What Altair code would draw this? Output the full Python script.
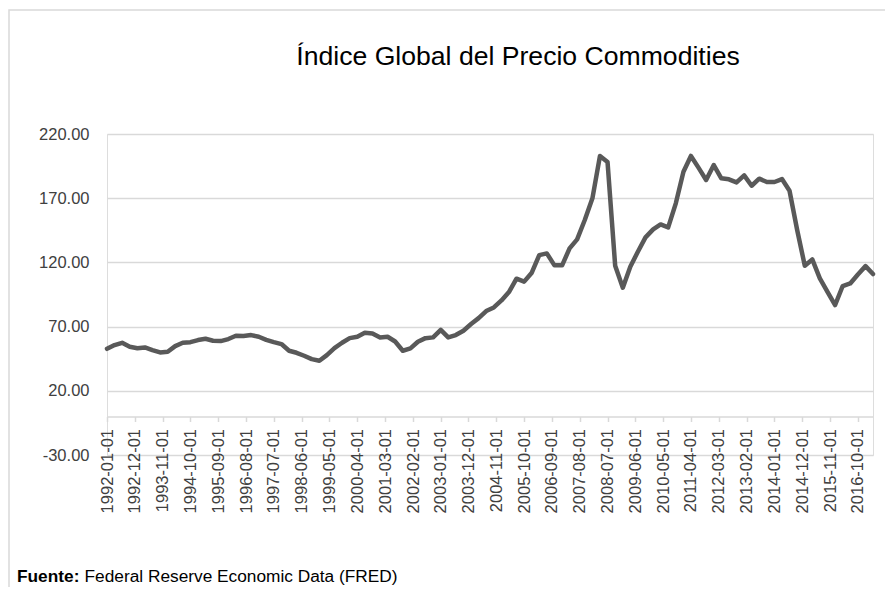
import altair as alt
import pandas as pd

# ---- data ----
title_text = "Índice Global del Precio Commodities"
source_bold = "Fuente:"
source_rest = "Federal Reserve Economic Data (FRED)"

dates = pd.date_range("1992-01-01", periods=102, freq="QS").strftime("%Y-%m-%d").tolist()
values = [
    52.7, 55.6, 57.4, 54.3,
    53.2, 53.8, 51.7, 49.9,
    50.4, 54.8, 57.4, 57.9,
    59.5, 60.5, 59.0, 58.7,
    60.3, 62.9, 62.6, 63.4,
    62.1, 59.7, 57.9, 56.4,
    51.2, 49.6, 47.3, 44.7,
    43.4, 47.8, 53.2, 57.4,
    61.0, 62.1, 65.2, 64.7,
    61.6, 62.1, 58.4, 51.2,
    53.0, 58.2, 61.0, 61.6,
    67.5, 61.6, 63.4, 66.8,
    72.0, 76.6, 82.1, 84.9,
    90.4, 96.9, 107.3, 105.0,
    112.0, 125.7, 127.0, 117.7,
    117.7, 130.9, 137.9, 153.0,
    169.9, 202.9, 198.2, 117.4,
    100.3, 116.6, 128.3, 139.5,
    145.7, 149.6, 147.3, 166.0,
    190.6, 202.9, 193.8, 184.2,
    195.8, 185.5, 184.7, 182.3,
    187.8, 179.7, 185.2, 182.6,
    182.6, 184.9, 175.8, 145.2,
    117.4, 122.3, 107.5, 97.1,
    86.8, 101.6, 103.6, 110.6,
    117.1, 110.9,
]
x_tick_labels = [
    "1992-01-01", "1992-12-01", "1993-11-01", "1994-10-01", "1995-09-01",
    "1996-08-01", "1997-07-01", "1998-06-01", "1999-05-01", "2000-04-01",
    "2001-03-01", "2002-02-01", "2003-01-01", "2003-12-01", "2004-11-01",
    "2005-10-01", "2006-09-01", "2007-08-01", "2008-07-01", "2009-06-01",
    "2010-05-01", "2011-04-01", "2012-03-01", "2013-02-01", "2014-01-01",
    "2014-12-01", "2015-11-01", "2016-10-01",
]
y_ticks = [-30, 20, 70, 120, 170, 220]
y_min, y_max = -30, 220
x_start, x_end = "1992-01-01", "2017-04-01"

# ---- layout ----
W, H = 766, 321
PAD_L, PAD_T, PAD_R, PAD_B = 99, 126, 12, 132

df = pd.DataFrame({"date": dates, "value": values})


def dt(s):
    y, m, d = (int(p) for p in s.split("-"))
    return alt.DateTime(year=y, month=m, date=d, utc=True)


regular = "Liberation Sans, Arial, sans-serif"

x_enc = alt.X(
    "date:T",
    scale=alt.Scale(type="utc", domain=[dt(x_start), dt(x_end)], nice=False),
    axis=alt.Axis(
        values=[dt(s) for s in x_tick_labels],
        format="%Y-%m-%d",
        labelAngle=270,
        labelFont=regular,
        labelFontSize=16.5,
        labelColor="#404040",
        labelPadding=7,
        labelOverlap=False,
        labelFlush=False,
        domainColor="#d9d9d9",
        domainWidth=1.5,
        tickColor="#d9d9d9",
        tickWidth=1.5,
        tickSize=5,
        grid=False,
        offset=-(H * 30 / 250),
        title=None,
    ),
)
y_enc = alt.Y(
    "value:Q",
    scale=alt.Scale(domain=[y_min, y_max], nice=False, zero=False),
    axis=alt.Axis(
        values=y_ticks,
        labelExpr="(datum.value < 0 ? '-' : '') + format(abs(datum.value), '.2f')",
        grid=True,
        gridColor="#d9d9d9",
        gridWidth=1.5,
        domain=False,
        ticks=False,
        labelFont=regular,
        labelFontSize=16.5,
        labelColor="#404040",
        labelPadding=18,
        title=None,
    ),
)

line = alt.Chart(df).mark_line(
    color="#595959", strokeWidth=4.5, strokeJoin="round", strokeCap="round"
).encode(x=x_enc, y=y_enc)

one = pd.DataFrame({"k": [0]})

frame = alt.Chart(one).mark_rect(
    fillOpacity=0, stroke="#d9d9d9", strokeWidth=1.5
).encode(
    x=alt.value(-PAD_L + 1),
    x2=alt.value(W + 200),
    y=alt.value(-PAD_T + 2),
    y2=alt.value(H + 300),
)

title = alt.Chart(pd.DataFrame({"t": [title_text]})).mark_text(
    font=regular, fontSize=26.6, fontWeight="normal", color="#000000",
    align="center", baseline="alphabetic",
).encode(text="t:N", x=alt.value(411), y=alt.value(-69))

src1 = alt.Chart(pd.DataFrame({"t": [source_bold]})).mark_text(
    font=regular, fontSize=17.3, fontWeight="bold", color="#000000",
    align="left", baseline="alphabetic",
).encode(text="t:N", x=alt.value(-90), y=alt.value(448))

src2 = alt.Chart(pd.DataFrame({"t": [source_rest]})).mark_text(
    font=regular, fontSize=17.3, fontWeight="normal", color="#000000",
    align="left", baseline="alphabetic",
).encode(text="t:N", x=alt.value(-90 + 67.5), y=alt.value(448))

chart = alt.layer(frame, line, title, src1, src2).properties(
    width=W,
    height=H,
    autosize=alt.AutoSizeParams(type="none"),
    padding={"left": PAD_L, "top": PAD_T, "right": PAD_R, "bottom": PAD_B},
).configure_view(stroke=None).configure(background="white")

chart.save("out.html", embed_options={"renderer": "svg", "actions": False})
